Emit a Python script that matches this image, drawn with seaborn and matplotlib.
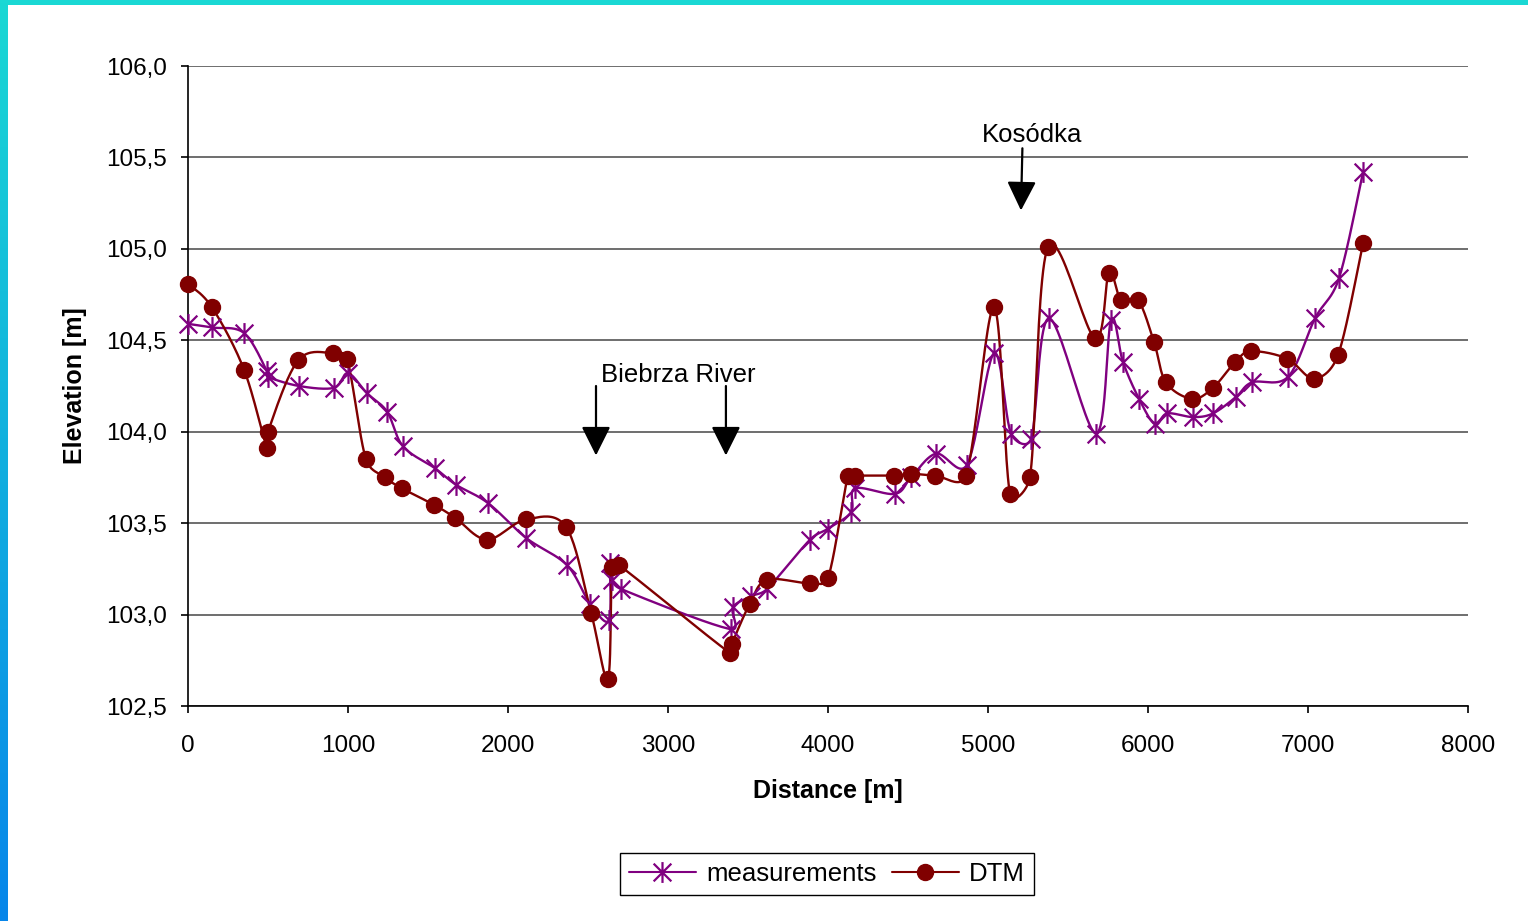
import numpy as np
import pandas as pd
import seaborn as sns
import matplotlib.pyplot as plt
from matplotlib.path import Path
from matplotlib.lines import Line2D

# distance [m] / elevation [m]
meas_x = [0, 150, 350, 494, 500, 694, 912, 1000, 1119, 1244, 1344, 1544, 1675,
          1875, 2112, 2369, 2512, 2631, 2637, 2650, 2706, 3394, 3406, 3519,
          3619, 3888, 4000, 4144, 4169, 4419, 4519, 4675, 4869, 5038, 5144,
          5269, 5381, 5675, 5769, 5844, 5944, 6044, 6119, 6281, 6406, 6550,
          6650, 6875, 7044, 7194, 7344]
meas_y = [104.59, 104.57, 104.54, 104.33, 104.30, 104.25, 104.24, 104.32,
          104.21, 104.11, 103.92, 103.80, 103.71, 103.61, 103.42, 103.27,
          103.06, 102.97, 103.28, 103.19, 103.14, 102.92, 103.04, 103.10,
          103.14, 103.41, 103.47, 103.56, 103.69, 103.66, 103.75, 103.88,
          103.82, 104.43, 103.99, 103.96, 104.62, 103.99, 104.61, 104.38,
          104.18, 104.04, 104.10, 104.08, 104.10, 104.19, 104.27, 104.30,
          104.62, 104.84, 105.42]

dtm_x = [0, 150, 350, 494, 500, 688, 906, 994, 1112, 1231, 1338, 1538, 1669,
         1869, 2112, 2362, 2519, 2625, 2650, 2694, 3388, 3400, 3512, 3619,
         3888, 4000, 4125, 4169, 4412, 4519, 4669, 4862, 5038, 5138, 5262,
         5375, 5669, 5756, 5831, 5938, 6038, 6112, 6275, 6406, 6544, 6644,
         6869, 7038, 7188, 7344]
dtm_y = [104.81, 104.68, 104.34, 103.91, 104.00, 104.39, 104.43, 104.40,
         103.85, 103.75, 103.69, 103.60, 103.53, 103.41, 103.52, 103.48,
         103.01, 102.65, 103.26, 103.27, 102.79, 102.84, 103.06, 103.19,
         103.17, 103.20, 103.76, 103.76, 103.76, 103.77, 103.76, 103.76,
         104.68, 103.66, 103.75, 105.01, 104.51, 104.87, 104.72, 104.72,
         104.49, 104.27, 104.18, 104.24, 104.38, 104.44, 104.40, 104.29,
         104.42, 105.03]

y_ticks = [102.5, 103.0, 103.5, 104.0, 104.5, 105.0, 105.5, 106.0]
x_ticks = [0, 1000, 2000, 3000, 4000, 5000, 6000, 7000, 8000]


def smooth(x, y, n=24):
    # excel-like smoothed line: bezier through the points, handles kept
    # shorter than half of each segment (work in screen-ish units)
    sx, sy = 8000 / 1280, 3.5 / 640
    p = np.column_stack([np.asarray(x) / sx, np.asarray(y) / sy]).astype(float)
    p = np.vstack([p[0], p, p[-1]])
    out = []
    t = np.linspace(0, 1, n)[:, None]
    for i in range(1, len(p) - 2):
        p0, p1, p2, p3 = p[i - 1], p[i], p[i + 1], p[i + 2]
        seglen = np.hypot(*(p2 - p1))
        d1 = (p2 - p0) / 6
        d2 = (p3 - p1) / 6
        for d in (d1, d2):
            L = np.hypot(*d)
            if L > 0.5 * seglen and L > 0:
                d *= 0.5 * seglen / L
        c1 = p1 + d1
        c2 = p2 - d2
        seg = ((1 - t) ** 3) * p1 + 3 * ((1 - t) ** 2) * t * c1 + 3 * (1 - t) * t ** 2 * c2 + t ** 3 * p2
        out.append(seg)
    out = np.vstack(out)
    return pd.DataFrame({"x": out[:, 0] * sx, "y": out[:, 1] * sy})


sns.set_theme(style="white")
plt.rcParams['font.family'] = ['Liberation Sans', 'DejaVu Sans']
plt.rcParams['text.color'] = 'black'
plt.rcParams['axes.labelcolor'] = 'black'
plt.rcParams['xtick.color'] = 'black'
plt.rcParams['ytick.color'] = 'black'

purple = "#800080"
darkred = "#800000"

# asterisk marker: X plus vertical bar
star = Path([(0, -1), (0, 1), (-0.85, -0.85), (0.85, 0.85), (-0.85, 0.85), (0.85, -0.85)],
            [Path.MOVETO, Path.LINETO, Path.MOVETO, Path.LINETO, Path.MOVETO, Path.LINETO])

fig = plt.figure(figsize=(15.28, 9.21), dpi=100)
ax = fig.add_axes([188 / 1528, 1 - 706 / 921, 1280 / 1528, 640 / 921])

sm = smooth(meas_x, meas_y)
sd = smooth(dtm_x, dtm_y)
sns.lineplot(data=sm, x="x", y="y", sort=False, estimator=None, color=purple, lw=1.7, ax=ax)
sns.lineplot(data=sd, x="x", y="y", sort=False, estimator=None, color=darkred, lw=1.7, ax=ax)
ax.plot(meas_x, meas_y, ls="none", marker=star, ms=15, mew=1.6, mec=purple, color=purple,
        zorder=4, clip_on=False)
ax.plot(dtm_x, dtm_y, ls="none", marker="o", ms=11.5, mec=darkred, mfc=darkred, zorder=5,
        clip_on=False)

ax.set_xlim(0, 8000)
ax.set_ylim(102.5, 106.0)
ax.set_xticks(x_ticks)
ax.set_yticks(y_ticks)
ax.set_yticklabels([f"{v:.1f}".replace(".", ",") for v in y_ticks])
ax.tick_params(axis="both", labelsize=17.5, length=5, width=1.2, color="black",
               direction="out", bottom=True, left=True)
ax.tick_params(axis="y", pad=10)
ax.tick_params(axis="x", pad=16)
ax.yaxis.grid(True, color="#555555", lw=1.2)
ax.set_axisbelow(True)
for s in ["top", "right"]:
    ax.spines[s].set_visible(False)
for s in ["left", "bottom"]:
    ax.spines[s].set_color("black")
    ax.spines[s].set_linewidth(1.2)

ax.set_xlabel("Distance [m]", fontsize=18, fontweight="bold", labelpad=16)
ax.set_ylabel("Elevation [m]", fontsize=18, fontweight="bold", labelpad=14)

arrow = dict(arrowstyle="-|>,head_length=1.0,head_width=0.5", color="black",
             lw=1.6, mutation_scale=18, shrinkA=0, shrinkB=0)
ax.annotate("", xy=(2550, 103.87), xytext=(2550, 104.25), arrowprops=arrow)
ax.annotate("", xy=(3362, 103.87), xytext=(3362, 104.25), arrowprops=arrow)
ax.annotate("", xy=(5206, 105.21), xytext=(5215, 105.55), arrowprops=arrow)
ax.text(3065, 104.31, "Biebrza River", fontsize=18.5, ha="center", va="center")
ax.text(5275, 105.62, "Kosódka", fontsize=18.5, ha="center", va="center")

handles = [Line2D([], [], color=purple, lw=1.5, marker=star, ms=15, mew=1.6),
           Line2D([], [], color=darkred, lw=1.5, marker="o", ms=11.5)]
leg = fig.legend(handles, ["measurements", "DTM"], loc="center",
                 bbox_to_anchor=(827 / 1528, 1 - 874 / 921), ncol=2, fontsize=18.5,
                 frameon=True, fancybox=False, edgecolor="black", framealpha=1,
                 handlelength=2.6, columnspacing=0.6, handletextpad=0.4,
                 borderpad=0.35)
leg.get_frame().set_linewidth(1.0)

# slide frame: cyan top bar, gradient left bar
top = fig.add_axes([0, 1 - 5 / 921, 1, 5 / 921])
top.axis("off")
top.add_patch(plt.Rectangle((0, 0), 1, 1, color="#1ad8d4", transform=top.transAxes))
side = fig.add_axes([0, 0, 8 / 1528, 1])
c_top = np.array([26, 216, 212]) / 255
c_bot = np.array([7, 134, 234]) / 255
g = np.linspace(0, 1, 256)[:, None]
grad = (c_top * (1 - g) + c_bot * g)[:, None, :]
side.imshow(grad, aspect="auto", extent=[0, 1, 0, 1])
side.axis("off")

fig.savefig("out.png", dpi=100)
